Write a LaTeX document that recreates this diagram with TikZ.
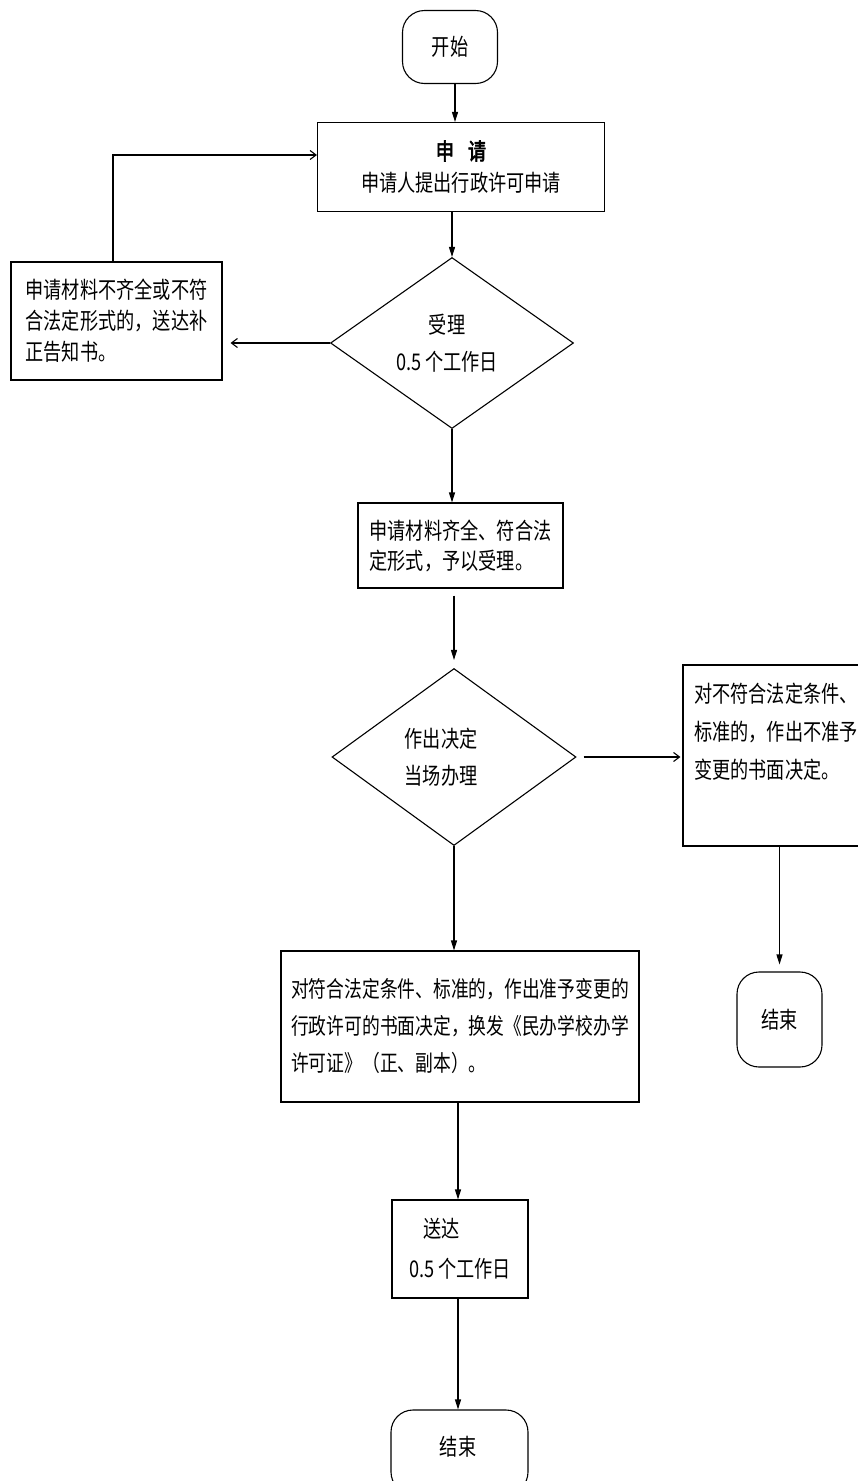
\documentclass[tikz,border=0pt]{standalone}
\usepackage{fontspec}
\newfontfamily\cjk[FakeStretch=0.79]{Noto Sans CJK SC}
\newfontfamily\cjkb[FakeStretch=0.79,FakeBold=2.5]{Noto Sans CJK SC}
\usetikzlibrary{shapes.geometric,arrows.meta,calc}
\begin{document}
\begin{tikzpicture}[x=1pt,y=-1pt,
  every node/.style={font=\cjk\fontsize{23}{36}\selectfont, inner sep=0pt},
  box/.style={draw, line width=1.1pt},
  term/.style={draw, line width=1.1pt, rounded corners=22pt},
  dia/.style={draw, diamond, line width=1.1pt, inner sep=0pt},
  txt/.style={align=center},
  arr/.style={line width=1.1pt, -{Triangle[length=10pt,width=6pt]}},
  harr/.style={line width=1.1pt, -{Straight Barb[length=6pt,width=9pt]}},
  line/.style={line width=1.1pt}
]
\clip (0,0) rectangle (858,1481);
\fill[white] (0,0) rectangle (858,1481);

% nodes
\node[term, minimum width=95pt, minimum height=73pt] (start) at (450,47) {开始};
\node[box, minimum width=287pt, minimum height=89pt, txt, font=\cjk\fontsize{23}{32}\selectfont] (apply) at (461,167)
  {{\cjkb 申\hspace{14pt}请}\\申请人提出行政许可申请};
\node[dia, minimum width=243pt, minimum height=171pt] (d1) at (452,343) {};
\node[txt, font=\cjk\fontsize{23}{37}\selectfont] (d1t) at (447,343) {受理\\0.5 个工作日};
\node[box, minimum width=211pt, minimum height=118pt, align=left, font=\cjk\fontsize{23}{31}\selectfont] (lb) at (116.5,321)
  {申请材料不齐全或不符\\合法定形式的，送达补\\正告知书。};
\node[box, minimum width=205pt, minimum height=85pt, align=left, font=\cjk\fontsize{23}{30}\selectfont] (acc) at (460.5,545.5)
  {申请材料齐全、符合法\\定形式，予以受理。};
\node[dia, minimum width=244pt, minimum height=177pt] (d2) at (454,757) {};
\node[txt, font=\cjk\fontsize{23}{37}\selectfont] (d2t) at (441,757) {作出决定\\当场办理};
\node[box, minimum width=183pt, minimum height=181pt] (rb) at (774.5,755.5) {};
\node[align=left, anchor=north west, font=\cjk\fontsize{23}{38}\selectfont] (rbt) at (694,683)
  {对不符合法定条件、\\标准的，作出不准予\\变更的书面决定。};
\node[term, minimum width=85pt, minimum height=95pt] (end2) at (779.5,1019.5) {结束};
\node[box, minimum width=358pt, minimum height=151pt, align=left, font=\cjk\fontsize{22.5}{37}\selectfont] (grant) at (460,1026.5)
  {对符合法定条件、标准的，作出准予变更的\\行政许可的书面决定，换发《民办学校办学\\许可证》（正、副本）。};
\node[box, minimum width=136pt, minimum height=98pt, align=left, font=\cjk\fontsize{23}{40}\selectfont] (send) at (460,1249)
  {\hspace*{14pt}送达\\0.5 个工作日};
\node[term, minimum width=137pt, minimum height=84pt] (end) at (459.5,1452) {};
\node (endt) at (458,1447) {结束};

% connectors
\draw[arr] (start.south -| 455,0) -- (455,0 |- apply.north);
\draw[arr] (d1.north |- apply.south) -- (d1.north);
\draw[arr] (d1.south) -- (d1.south |- acc.north);
\draw[arr, shorten <=7pt, shorten >=8pt] (d2.north |- acc.south) -- (d2.north);
\draw[harr, shorten >=8pt] (d1.west) -- (d1.west -| lb.east);
\draw[harr] (lb.north -| 113,0) |- ([yshift=12pt]apply.west);
\draw[harr, shorten <=7pt, shorten >=2pt] (d2.east) -- (d2.east -| rb.west);
\draw[arr, shorten >=7pt] (end2.north |- rb.south) -- (end2.north);
\draw[arr] (d2.south) -- (d2.south |- grant.north);
\draw[arr] (458,0 |- grant.south) -- (458,0 |- send.north);
\draw[arr] (458,0 |- send.south) -- (458,0 |- end.north);
\end{tikzpicture}
\end{document}
